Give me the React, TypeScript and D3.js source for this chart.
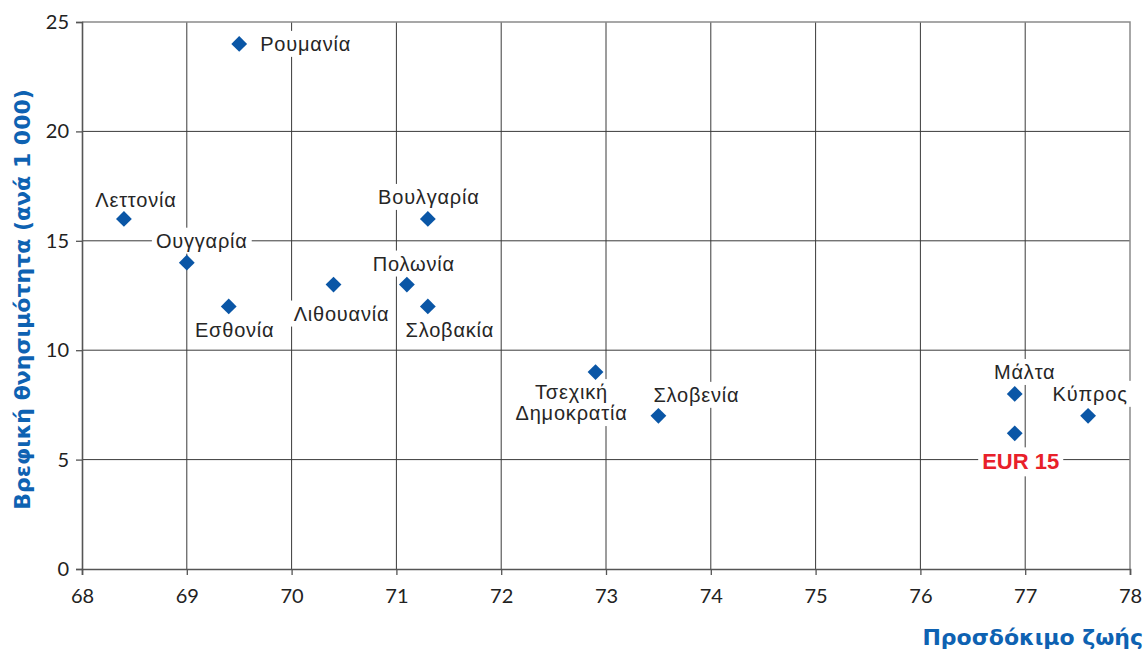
import React, { useRef, useEffect } from 'react'
import * as d3 from 'd3'

// country names, life expectancy, infant mortality (per 1 000)
const countries = ['Ρουμανία', 'Λεττονία', 'Ουγγαρία', 'Εσθονία', 'Λιθουανία', 'Βουλγαρία', 'Πολωνία', 'Σλοβακία', 'Τσεχική\nΔημοκρατία', 'Σλοβενία', 'Μάλτα', 'EUR 15', 'Κύπρος']
const lifeExp = [69.5, 68.4, 69.0, 69.4, 70.4, 71.3, 71.1, 71.3, 72.9, 73.5, 76.9, 76.9, 77.6]
const infantMort = [24, 16, 14, 12, 13, 16, 13, 12, 9, 7, 8, 6.2, 7]

const xTicks = [68, 69, 70, 71, 72, 73, 74, 75, 76, 77, 78]
const yTicks = [0, 5, 10, 15, 20, 25]

// label offsets relative to each point (layout only)
const labelPos: [number, number, string][] = [
  [21, 7, 'start'], [12, -12, 'middle'], [15, -15, 'middle'], [6, 31, 'middle'],
  [8, 36, 'middle'], [1, -15, 'middle'], [7, -14, 'middle'], [22, 31, 'middle'],
  [-24, 27, 'middle'], [38, -14, 'middle'], [10, -15, 'middle'], [6, 36, 'middle'], [2, -15, 'middle'],
]

const W = 1145
const H = 650
const m = { left: 82, right: 15, top: 22, bottom: 81 }

const App = () => {
  const svgRef = useRef<SVGSVGElement>(null)

  useEffect(() => {
    document.body.style.margin = '0'
    const svg = d3.select(svgRef.current)
    svg.selectAll('*').remove()

    const x = d3.scaleLinear().domain([68, 78]).range([m.left, W - m.right])
    const y = d3.scaleLinear().domain([0, 25]).range([H - m.bottom, m.top])

    // gridlines
    const grid = svg.append('g')
    grid.selectAll('line.v').data(xTicks.slice(1, -1)).enter().append('line')
      .attr('x1', d => x(d)).attr('x2', d => x(d))
      .attr('y1', y(25)).attr('y2', y(0))
      .attr('stroke', '#3a3a3a').attr('stroke-width', 1)
    grid.selectAll('line.h').data(yTicks.slice(1, -1)).enter().append('line')
      .attr('x1', x(68)).attr('x2', x(78))
      .attr('y1', d => y(d)).attr('y2', d => y(d))
      .attr('stroke', '#3a3a3a').attr('stroke-width', 1)
    // frame top/right
    svg.append('path')
      .attr('d', `M${x(68)},${y(25)}H${x(78)}V${y(0)}`)
      .attr('fill', 'none').attr('stroke', '#8a8a8a').attr('stroke-width', 1.5)

    // axes
    const xAxis = svg.append('g').attr('transform', `translate(0,${y(0)})`)
      .call(d3.axisBottom(x).tickValues(xTicks).tickSize(6).tickPadding(14))
    const yAxis = svg.append('g').attr('transform', `translate(${x(68)},0)`)
      .call(d3.axisLeft(y).tickValues(yTicks).tickSize(6).tickPadding(7))
    ;[xAxis, yAxis].forEach(a => {
      a.select('.domain').attr('stroke', '#555').attr('stroke-width', 1.6)
      a.selectAll('.tick line').attr('stroke', '#555').attr('stroke-width', 1.3)
      a.selectAll('.tick text').attr('fill', '#222')
        .style('font-family', 'Lato, "Open Sans", sans-serif').style('font-size', '20px')
    })

    // labels with white boxes
    const labels = svg.append('g')
    countries.forEach((name, i) => {
      const px = x(lifeExp[i])
      const py = y(infantMort[i])
      const [dx, dy, anchor] = labelPos[i]
      const isEur = name === 'EUR 15'
      const t = labels.append('text')
        .attr('x', px + dx).attr('y', py + dy)
        .attr('text-anchor', anchor)
        .attr('fill', isEur ? '#e8202a' : '#262626')
        .style('font-family', '"Liberation Sans", Arial, sans-serif')
        .style('font-size', isEur ? '22px' : '20px')
        .style('font-weight', isEur ? 'bold' : 'normal')
        .style('letter-spacing', isEur ? '0px' : '0.8px')
      name.split('\n').forEach((ln, j) => {
        t.append('tspan').attr('x', px + dx).attr('dy', j === 0 ? 0 : 21).text(ln)
      })
      const b = (t.node() as SVGTextElement).getBBox()
      labels.insert('rect', () => t.node())
        .attr('x', b.x - 4).attr('y', b.y - 2)
        .attr('width', b.width + 8).attr('height', b.height + 4)
        .attr('fill', '#fff')
    })

    // diamonds (rotated squares)
    svg.append('g').selectAll('path').data(countries).enter().append('path')
      .attr('d', d3.symbol(d3.symbolSquare, 125)())
      .attr('transform', (d, i) => `translate(${x(lifeExp[i])},${y(infantMort[i])}) rotate(45)`)
      .attr('fill', '#0a56a6')

    // axis titles
    svg.append('text')
      .attr('x', 1143).attr('y', 645).attr('text-anchor', 'end')
      .attr('fill', '#0e62b2')
      .style('font-family', '"DejaVu Sans", sans-serif').style('font-size', '22px').style('font-weight', 'bold')
      .text('Προσδόκιμο ζωής')
    svg.append('text')
      .attr('transform', `translate(30,${(y(0) + y(25)) / 2 + 4}) rotate(-90)`)
      .attr('text-anchor', 'middle')
      .attr('fill', '#0e62b2')
      .style('font-family', '"DejaVu Sans", sans-serif').style('font-size', '22px').style('font-weight', 'bold')
      .text('Βρεφική θνησιμότητα (ανά 1 000)')
  }, [])

  return <svg ref={svgRef} width={W} height={H} style={{ display: 'block', background: '#fff' }} />
}

export default App
